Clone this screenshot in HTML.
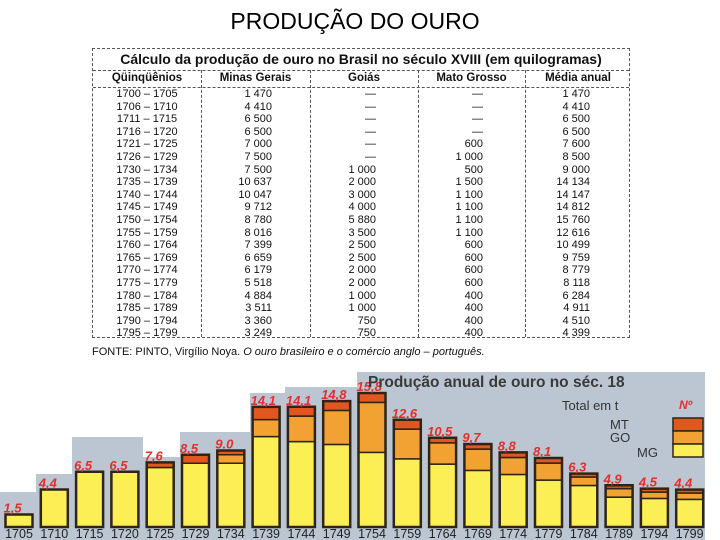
<!DOCTYPE html>
<html><head><meta charset="utf-8">
<style>
body{margin:0;background:#fff;}
#root{position:relative;width:720px;height:540px;overflow:hidden;background:#fff;font-family:"Liberation Sans",sans-serif;}
#ttl{position:absolute;left:0;width:710px;top:8px;text-align:center;font-size:23px;color:#000;}
#tbl{position:absolute;left:92px;top:48px;width:538px;height:290px;border:1px dashed #555;box-sizing:border-box;}
.tt{position:absolute;left:0;width:100%;top:2px;text-align:center;font-weight:bold;font-size:14px;color:#111;}
.hl{position:absolute;left:0;width:100%;border-top:1px dashed #555;}
.vl{position:absolute;top:21px;bottom:0;border-left:1px dashed #555;}
.h{position:absolute;top:23px;font-weight:bold;font-size:11.5px;color:#111;text-align:center;}
.c{position:absolute;font-size:11px;color:#111;text-align:right;}
#fonte{position:absolute;left:92px;top:346px;font-size:11px;color:#111;}
</style></head><body>
<div id="root">
<div id="ttl">PRODUÇÃO DO OURO</div>
<div id="tbl">
<div class="tt">Cálculo da produção de ouro no Brasil no século XVIII (em quilogramas)</div>
<div class="hl" style="top:21px"></div>
<div class="hl" style="top:38px"></div>
<div class="vl" style="left:108px"></div>
<div class="vl" style="left:217px"></div>
<div class="vl" style="left:325px"></div>
<div class="vl" style="left:432px"></div>
<div class="h" style="left:0;width:108px">Qüinqüênios</div>
<div class="h" style="left:108px;width:109px">Minas Gerais</div>
<div class="h" style="left:217px;width:108px">Goiás</div>
<div class="h" style="left:325px;width:107px">Mato Grosso</div>
<div class="h" style="left:432px;width:106px">Média anual</div>
</div>
<div id="fonte">FONTE: PINTO, Virgílio Noya. <i>O ouro brasileiro e o comércio anglo – português.</i></div>
<svg id="chart" width="720" height="540" style="position:absolute;left:0;top:0"></svg>
</div>
<script>
const periods=["1700 – 1705","1706 – 1710","1711 – 1715","1716 – 1720","1721 – 1725","1726 – 1729","1730 – 1734","1735 – 1739","1740 – 1744","1745 – 1749","1750 – 1754","1755 – 1759","1760 – 1764","1765 – 1769","1770 – 1774","1775 – 1779","1780 – 1784","1785 – 1789","1790 – 1794","1795 – 1799"];
const years=["1705","1710","1715","1720","1725","1729","1734","1739","1744","1749","1754","1759","1764","1769","1774","1779","1784","1789","1794","1799"];
const mgKg=[1470,4410,6500,6500,7000,7500,7500,10637,10047,9712,8780,8016,7399,6659,6179,5518,4884,3511,3360,3249];
const goKg=[0,0,0,0,0,0,1000,2000,3000,4000,5880,3500,2500,2500,2000,2000,1000,1000,750,750];
const mtKg=[0,0,0,0,600,1000,500,1500,1100,1100,1100,1100,600,600,600,600,400,400,400,400];
const avgKg=[1470,4410,6500,6500,7600,8500,9000,14134,14147,14812,15760,12616,10499,9759,8779,8118,6284,4911,4510,4399];
const totalLabels=["1,5","4,4","6,5","6,5","7,6","8,5","9.0","14,1","14,1","14,8","15,8","12,6","10,5","9,7","8,8","8,1","6,3","4,9","4,5","4,4"];

const tbl=document.getElementById('tbl');
function fmt(v){ if(!v) return '—'; const s=String(v); return s.length>3? s.slice(0,s.length-3)+' '+s.slice(-3):s; }
for(let i=0;i<periods.length;i++){
  const y=38+1+i*12.6;
  const cells=[[periods[i],0,108,'center'],[fmt(mgKg[i]),108,71,'right'],[fmt(goKg[i]),217,66,'right'],[fmt(mtKg[i]),325,65,'right'],[fmt(avgKg[i]),432,65,'right']];
  const names=['period','minas-gerais-value','goias-value','mato-grosso-value','media-anual-value'];
  cells.forEach((c,j)=>{
    const d=document.createElement('div');
    d.className='c';
    d.style.left=c[1]+'px';d.style.width=c[2]+'px';d.style.top=y+'px';d.style.textAlign=c[3];
    d.textContent=c[0];
    
    
    tbl.appendChild(d);
  });
}

const svg=document.getElementById('chart');
const NS='http://www.w3.org/2000/svg';
function mk(t,a){const e=document.createElementNS(NS,t);for(const k in a)e.setAttribute(k,a[k]);svg.appendChild(e);return e;}
const y0=527, k=8.5/1000;
function yS(v){return y0-v*k;}
function xC(i){return 19+i*35.3;}
const bg=mk('polygon',{points:"0,540 0,492 36,492 36,474 72,474 72,437 143,437 143,457 180,457 180,432 250,432 250,393 285,393 285,387 357,387 357,372 705,372 705,540",fill:"#bcc6d3"});


const cols={mg:'#fbef55',go:'#f2a232',mt:'#e2561f'};
for(let i=0;i<years.length;i++){
  const x=xC(i)-13.5,w=27;
  const top=yS(mgKg[i]+goKg[i]+mtKg[i]);
  const segs=[[0,mgKg[i],cols.mg,'mg'],[mgKg[i],goKg[i],cols.go,'go'],[mgKg[i]+goKg[i],mtKg[i],cols.mt,'mt']];
  segs.forEach(s=>{ if(s[1]>0){
    const r=mk('rect',{x:x,y:yS(s[0]+s[1]),width:w,height:s[1]*k,fill:s[2],stroke:'#2e2418','stroke-width':1.5});
    
    
  }});
  const o=mk('rect',{x:x,y:top,width:w,height:y0-top,fill:'none',stroke:'#2e2418','stroke-width':2.5});
  
  
  const lb=mk('text',{x:x-2,y:top-2,'font-size':13,'font-weight':'bold','font-style':'italic',fill:'#e3302a'});
  lb.textContent=totalLabels[i];
  
  
  const yl=mk('text',{x:xC(i),y:538,'font-size':12.5,'text-anchor':'middle',fill:'#222'});
  yl.textContent=years[i];
  
  
}
const ct=mk('text',{x:368,y:387,'font-size':15.5,'font-weight':'bold',fill:'#3a3a3a'});
ct.textContent='Produção anual de ouro no séc. 18';


const l1=mk('text',{x:562,y:410,'font-size':13,fill:'#333'});l1.textContent='Total em t';

const l2=mk('text',{x:679,y:409,'font-size':12,'font-weight':'bold','font-style':'italic',fill:'#e3302a'});l2.textContent='Nº';

const lgItems=[['MT',610,429,cols.mt,418],['GO',610,442,cols.go,431],['MG',637,457,cols.mg,444]];
lgItems.forEach(t=>{
  const tx=mk('text',{x:t[1],y:t[2],'font-size':13,fill:'#333'});tx.textContent=t[0];
  
  
  const sw=mk('rect',{x:673,y:t[4],width:30,height:13,fill:t[3],stroke:'#2e2418','stroke-width':1.5});
  
  
});
</script>
</body></html>
